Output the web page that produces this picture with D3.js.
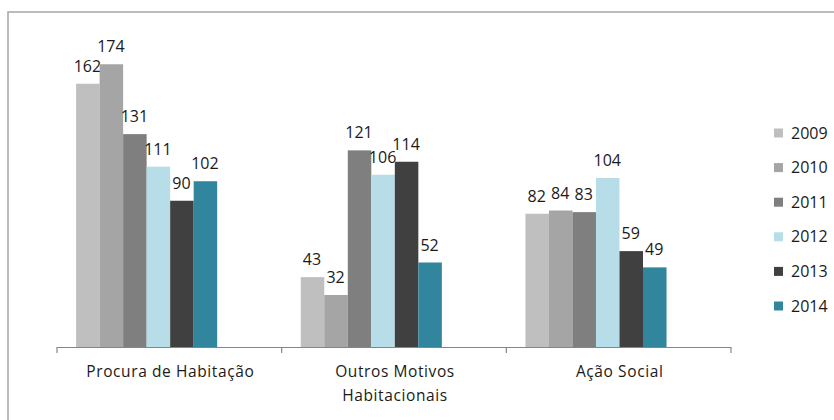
<!DOCTYPE html>
<html><head><meta charset="utf-8">
<script src="https://cdn.jsdelivr.net/npm/d3@7"></script>
<style>html,body{margin:0;padding:0;background:#fff;overflow:hidden}</style>
</head><body>
<script>
const categories = [["Procura de Habitação"], ["Outros Motivos", "Habitacionais"], ["Ação Social"]];
const series = ["2009", "2010", "2011", "2012", "2013", "2014"];
const colors = ["#bfbfbf", "#a5a5a5", "#7f7f7f", "#b7dee8", "#404040", "#31859c"];
const v2009 = [162, 43, 82];
const v2010 = [174, 32, 84];
const v2011 = [131, 121, 83];
const v2012 = [111, 106, 104];
const v2013 = [90, 114, 59];
const v2014 = [102, 52, 49];
const values = [v2009, v2010, v2011, v2012, v2013, v2014];

const W = 834, H = 420;
const svg = d3.select("body").append("svg").attr("width", W).attr("height", H);
const font = "'Open Sans', sans-serif";

svg.append("rect").attr("x", 8).attr("y", 12).attr("width", 900).attr("height", 500)
  .attr("fill", "none").attr("stroke", "#a6a6a6").attr("stroke-width", 1.5);

const x0 = d3.scaleBand().domain(d3.range(categories.length)).range([57, 731]).padding(0);
const bw = x0.bandwidth();
const x1 = d3.scaleBand().domain(series).range([0.085 * bw, 0.713 * bw]).padding(0);
const y = d3.scaleLinear().domain([0, 200]).range([347, 22]);

const g = svg.append("g");
series.forEach((s, si) => {
  values[si].forEach((v, ci) => {
    const bx = x0(ci) + x1(s);
    g.append("rect").attr("x", bx).attr("y", y(v)).attr("width", x1.bandwidth())
      .attr("height", y(0) - y(v)).attr("fill", colors[si]);
    g.append("text").attr("x", bx + x1.bandwidth() / 2 - 0.5).attr("y", y(v) - 12)
      .attr("text-anchor", "middle").attr("font-family", font).attr("font-size", 16)
      .attr("fill", "#1a1a1a").text(v);
  });
});

// axis
const axis = svg.append("g");
axis.append("line").attr("x1", 57).attr("x2", 731).attr("y1", 347.5).attr("y2", 347.5)
  .attr("stroke", "#868686").attr("stroke-width", 1.2);
d3.range(categories.length + 1).forEach(i => {
  const xx = 57 + i * bw;
  axis.append("line").attr("x1", xx).attr("x2", xx).attr("y1", 347).attr("y2", 353)
    .attr("stroke", "#868686").attr("stroke-width", 1.2);
});
categories.forEach((lines, ci) => {
  const t = axis.append("text").attr("text-anchor", "middle").attr("font-family", font)
    .attr("font-size", 15.5).attr("letter-spacing", 0.6).attr("fill", "#1a1a1a");
  lines.forEach((ln, li) => {
    t.append("tspan").attr("x", x0(ci) + bw / 2 + 1).attr("y", 377 + li * 24).text(ln);
  });
});

// legend
const lg = svg.append("g");
series.forEach((s, si) => {
  const cy = 133 + si * 34.6;
  lg.append("rect").attr("x", 774).attr("y", cy - 4.5).attr("width", 9).attr("height", 9).attr("fill", colors[si]);
  lg.append("text").attr("x", 791).attr("y", cy + 5.5).attr("font-family", font).attr("font-size", 16)
    .attr("fill", "#1a1a1a").text(s);
});
</script>
</body></html>
